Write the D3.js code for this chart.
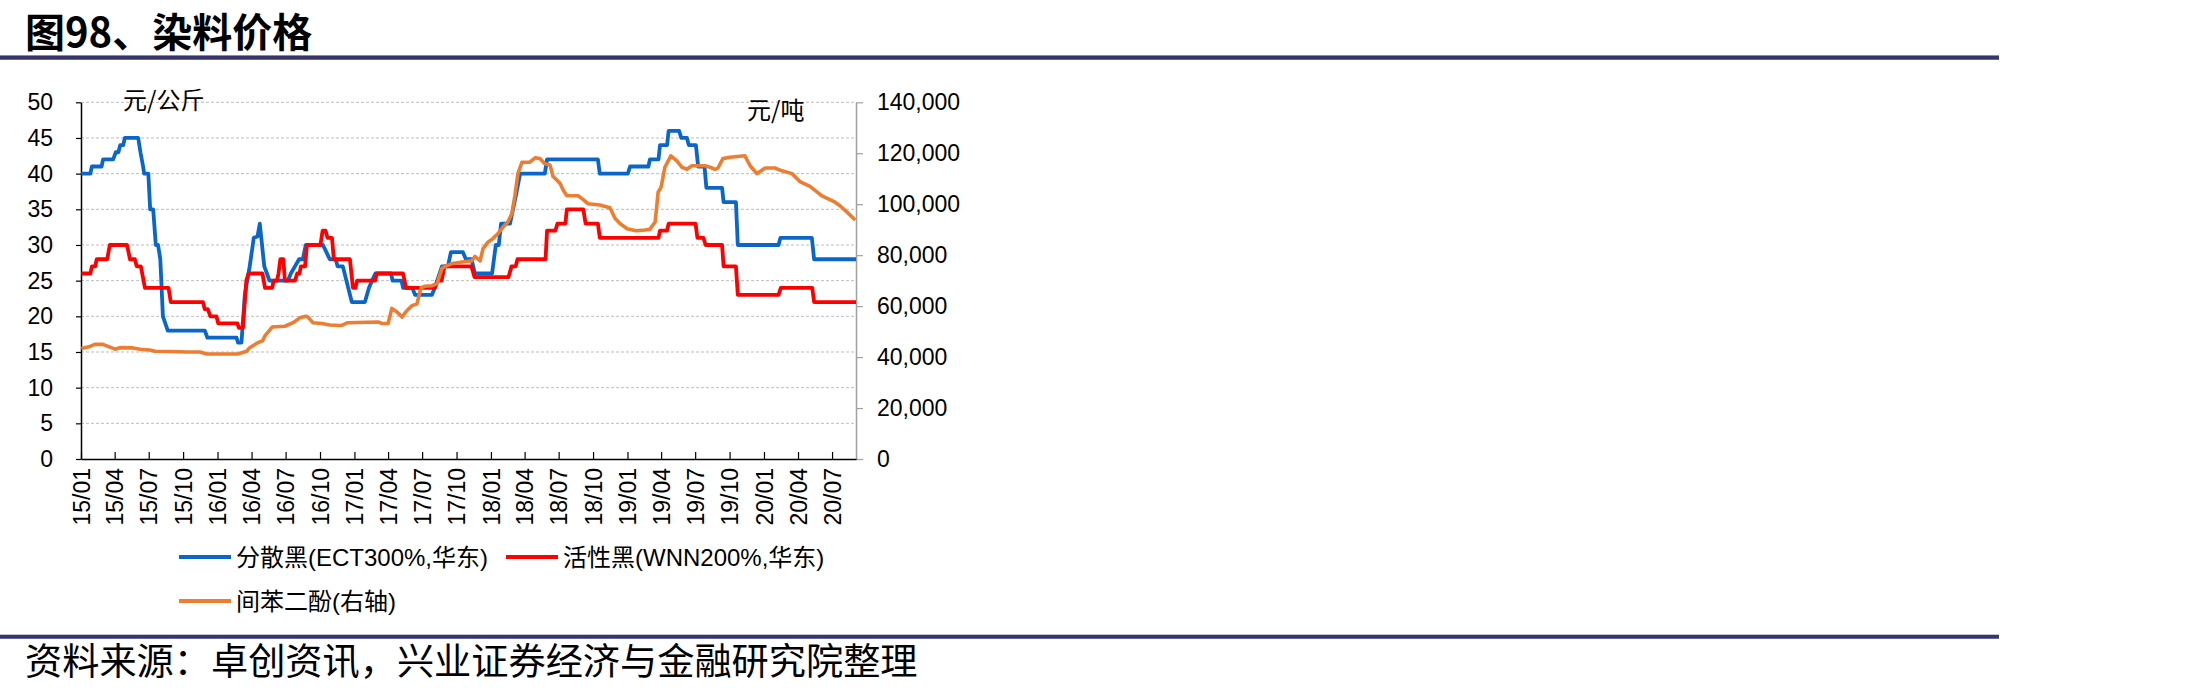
<!DOCTYPE html>
<html>
<head>
<meta charset="utf-8">
<script src="https://cdn.jsdelivr.net/npm/d3@7"></script>
<style>
  html, body { margin: 0; padding: 0; background: #ffffff; }
  svg { display: block; }
</style>
</head>
<body>
<svg id="chart" width="2191" height="696"></svg>
<script>
// ---------------- DATA ----------------
const titleText = "图98、染料价格";
const sourceText = "资料来源：卓创资讯，兴业证券经济与金融研究院整理";
const leftUnit = "元/公斤";
const rightUnit = "元/吨";
const seriesNames = ["分散黑(ECT300%,华东)", "活性黑(WNN200%,华东)", "间苯二酚(右轴)"];
const seriesColors = ["#0a66c8", "#ff0000", "#ed7d31"];

const leftTicks = [0, 5, 10, 15, 20, 25, 30, 35, 40, 45, 50];
const rightTicks = [0, 20000, 40000, 60000, 80000, 100000, 120000, 140000];
const xTickDates = ["2015-01-01","2015-04-01","2015-07-01","2015-10-01","2016-01-01","2016-04-01","2016-07-01","2016-10-01",
  "2017-01-01","2017-04-01","2017-07-01","2017-10-01","2018-01-01","2018-04-01","2018-07-01","2018-10-01",
  "2019-01-01","2019-04-01","2019-07-01","2019-10-01","2020-01-01","2020-04-01","2020-07-01"];
const xDomain = ["2015-01-01", "2020-09-03"];

// 分散黑 (left axis, 元/公斤)
const disperseBlack = [
  ["2015-01-02",40],["2015-01-26",40],["2015-01-30",41],["2015-02-25",41],["2015-03-01",42],["2015-03-28",42],
  ["2015-04-04",43],["2015-04-11",43],["2015-04-16",44],["2015-04-24",44],["2015-04-28",45],["2015-06-03",45],
  ["2015-06-09",43],["2015-06-16",41],["2015-06-19",40],["2015-06-30",40],["2015-07-05",35],["2015-07-13",35],
  ["2015-07-20",30],["2015-07-26",30],["2015-08-01",28],["2015-08-08",20],["2015-08-21",18],["2015-11-28",18],
  ["2015-12-05",17],["2016-02-21",17],["2016-02-25",16.3],["2016-03-05",16.3],["2016-03-14",23],["2016-03-27",27],
  ["2016-04-07",31],["2016-04-17",31.2],["2016-04-23",33],["2016-04-29",30],["2016-05-05",27],["2016-05-12",26],
  ["2016-05-19",25],["2016-07-07",25],["2016-07-15",26],["2016-07-26",27],["2016-08-06",28],["2016-08-16",28],
  ["2016-08-24",30],["2016-10-09",30],["2016-10-18",29],["2016-10-27",28],["2016-11-12",28],["2016-11-17",27],
  ["2016-12-01",27],["2016-12-25",22],["2017-01-29",22],["2017-02-09",24],["2017-02-17",25],["2017-02-26",26],
  ["2017-04-09",26],["2017-04-13",25],["2017-05-07",25],["2017-05-11",24],["2017-06-05",24],["2017-06-12",23],
  ["2017-07-27",23],["2017-08-04",24],["2017-08-23",27],["2017-09-08",27],["2017-09-16",29],["2017-10-18",29],
  ["2017-10-26",28],["2017-11-10",28],["2017-11-19",26],["2018-01-04",26],["2018-01-14",30],["2018-01-22",30],
  ["2018-01-28",33],["2018-02-21",33],["2018-03-01",35],["2018-03-09",37],["2018-03-20",40],["2018-05-25",40],
  ["2018-05-31",42],["2018-10-14",42],["2018-10-19",40],["2019-01-02",40],["2019-01-08",41],["2019-02-26",41],
  ["2019-03-02",42],["2019-03-25",42],["2019-03-29",44],["2019-04-17",44],["2019-04-21",46],["2019-05-19",46],
  ["2019-05-25",45],["2019-06-09",45],["2019-06-14",44],["2019-07-03",44],["2019-07-09",41],["2019-07-26",41],
  ["2019-07-31",38],["2019-09-11",38],["2019-09-15",36],["2019-10-18",36],["2019-10-23",30],["2020-02-09",30],
  ["2020-02-14",31],["2020-05-08",31],["2020-05-14",28],["2020-09-03",28]
];

// 活性黑 (left axis, 元/公斤)
const reactiveBlack = [
  ["2015-01-02",26],["2015-01-26",26],["2015-01-30",27],["2015-02-08",27],["2015-02-12",28],["2015-03-12",28],
  ["2015-03-19",30],["2015-05-04",30],["2015-05-12",28],["2015-05-25",28],["2015-05-30",27],["2015-06-10",27],
  ["2015-06-21",24],["2015-08-23",24],["2015-08-29",22],["2015-11-23",22],["2015-11-28",21],["2015-12-06",21],
  ["2015-12-13",20],["2015-12-29",20],["2016-01-03",19],["2016-02-23",19],["2016-02-27",18.4],["2016-03-09",18.4],
  ["2016-03-18",25],["2016-03-24",26],["2016-04-30",26],["2016-05-07",24],["2016-05-26",24],["2016-05-30",25],
  ["2016-06-08",25],["2016-06-12",26],["2016-06-17",28],["2016-06-25",28],["2016-06-29",25],["2016-07-26",25],
  ["2016-08-01",26],["2016-08-07",26],["2016-08-11",27],["2016-08-22",27],["2016-08-27",30],["2016-10-02",30],
  ["2016-10-08",32],["2016-10-16",32],["2016-10-21",31],["2016-11-02",31],["2016-11-07",28],["2016-12-20",28],
  ["2016-12-28",24],["2017-01-04",24],["2017-01-08",25],["2017-02-25",25],["2017-03-02",26],["2017-05-11",26],
  ["2017-05-19",24],["2017-08-04",24],["2017-08-11",25],["2017-08-22",25],["2017-08-30",27],["2017-11-10",27],
  ["2017-11-18",25.5],["2018-02-17",25.5],["2018-02-25",27],["2018-03-08",27],["2018-03-13",28],["2018-05-27",28],
  ["2018-05-31",32],["2018-06-22",32],["2018-06-28",33],["2018-07-19",33],["2018-07-23",35],["2018-09-05",35],
  ["2018-09-11",33],["2018-10-14",33],["2018-10-19",31],["2019-03-25",31],["2019-03-29",32],["2019-04-17",32],
  ["2019-04-21",33],["2019-07-02",33],["2019-07-07",31],["2019-07-23",31],["2019-07-29",30],["2019-09-11",30],
  ["2019-09-15",27],["2019-10-18",27],["2019-10-23",23],["2020-02-09",23],["2020-02-15",24],["2020-05-09",24],
  ["2020-05-14",22],["2020-09-03",22]
];

// 间苯二酚 (right axis, 元/吨)
const resorcinol = [
  ["2015-01-02",43400],["2015-01-25",44200],["2015-02-07",45000],["2015-03-01",45000],["2015-03-14",44200],
  ["2015-04-02",43100],["2015-04-15",43700],["2015-05-20",43600],["2015-06-08",43100],["2015-07-04",42800],
  ["2015-07-18",42300],["2015-08-27",42200],["2015-10-11",42000],["2015-11-15",42000],["2015-12-04",41200],
  ["2016-02-24",41200],["2016-03-06",41700],["2016-03-19",42300],["2016-03-27",43700],["2016-04-17",45600],
  ["2016-05-01",46500],["2016-05-07",48400],["2016-05-15",49800],["2016-05-26",51800],["2016-06-29",52100],
  ["2016-07-21",53500],["2016-08-08",55400],["2016-08-24",56000],["2016-08-30",55700],["2016-09-12",53500],
  ["2016-10-06",53200],["2016-10-27",52600],["2016-11-28",52400],["2016-12-14",53500],["2017-03-05",53800],
  ["2017-03-16",53200],["2017-04-01",53200],["2017-04-11",59100],["2017-04-25",57700],["2017-05-08",55700],
  ["2017-05-21",58200],["2017-06-04",60200],["2017-06-17",60800],["2017-06-28",67200],["2017-07-09",67800],
  ["2017-07-27",68000],["2017-08-10",68900],["2017-08-23",74800],["2017-09-05",75900],["2017-09-19",76700],
  ["2017-10-16",77300],["2017-11-11",77800],["2017-11-19",79500],["2017-12-03",77800],["2017-12-11",82600],
  ["2017-12-24",85100],["2018-01-06",86500],["2018-01-20",88500],["2018-02-02",91000],["2018-02-15",93000],
  ["2018-02-26",96300],["2018-03-06",103300],["2018-03-14",112000],["2018-03-25",116500],["2018-04-15",116500],
  ["2018-04-29",118200],["2018-05-12",117900],["2018-05-25",115900],["2018-06-08",115400],["2018-06-16",110900],
  ["2018-06-24",109800],["2018-07-05",108100],["2018-07-13",105600],["2018-07-23",103300],["2018-08-22",103300],
  ["2018-09-04",101900],["2018-09-17",100200],["2018-10-19",99700],["2018-11-15",98600],["2018-11-29",94400],
  ["2018-12-12",92400],["2018-12-31",90400],["2019-01-24",89600],["2019-02-17",89900],["2019-03-02",90200],
  ["2019-03-16",93000],["2019-03-24",104700],["2019-04-01",106700],["2019-04-11",114500],["2019-04-27",119000],
  ["2019-05-13",117000],["2019-05-27",114500],["2019-06-09",113700],["2019-06-22",115100],["2019-07-27",115100],
  ["2019-08-10",114500],["2019-08-23",113700],["2019-08-31",114200],["2019-09-13",117900],["2019-10-02",118400],
  ["2019-11-11",119000],["2019-11-25",115100],["2019-12-13",112000],["2020-01-04",114200],["2020-01-30",114200],
  ["2020-02-18",113100],["2020-03-16",112000],["2020-04-06",108900],["2020-05-03",107000],["2020-06-04",103300],
  ["2020-07-09",100800],["2020-07-22",99400],["2020-08-10",96900],["2020-09-01",93800]
];

// ---------------- DRAW ----------------
const parse = d3.timeParse("%Y-%m-%d");
const svg = d3.select("#chart");
const numFont = "'Liberation Sans', Arial, sans-serif";
const cjkFont = "'Noto Sans CJK SC', 'Liberation Sans', sans-serif";
const mixFont = "'Liberation Sans', 'Noto Sans CJK SC', sans-serif";

svg.append("rect").attr("width", 2191).attr("height", 696).attr("fill", "#ffffff");

// Title and rules
svg.append("text").attr("x", 25).attr("y", 47)
  .attr("font-family", cjkFont).attr("font-size", 40).attr("font-weight", 700)
  .attr("fill", "#000").text(titleText);
svg.append("rect").attr("x", 0).attr("y", 55).attr("width", 1999).attr("height", 5).attr("fill", "#8a8ab0");
svg.append("rect").attr("x", 0).attr("y", 56).attr("width", 1999).attr("height", 3.4).attr("fill", "#35356b");
svg.append("rect").attr("x", 0).attr("y", 634.5).attr("width", 1999).attr("height", 4.5).attr("fill", "#8a8ab0");
svg.append("rect").attr("x", 0).attr("y", 635).attr("width", 1999).attr("height", 3.4).attr("fill", "#35356b");
svg.append("text").attr("x", 25).attr("y", 675)
  .attr("font-family", cjkFont).attr("font-size", 37.2)
  .attr("fill", "#000").text(sourceText);

const x = d3.scaleTime().domain(xDomain.map(parse)).range([81, 856]);
const yL = d3.scaleLinear().domain([0, 50]).range([459, 102.3]);
const yR = d3.scaleLinear().domain([0, 140000]).range([459, 102.3]);

// Gridlines
svg.append("g").selectAll("line").data(leftTicks.filter(v => v > 0)).join("line")
  .attr("x1", 81).attr("x2", 856)
  .attr("y1", d => yL(d)).attr("y2", d => yL(d))
  .attr("stroke", "#bdbdbd").attr("stroke-width", 1).attr("stroke-dasharray", "3,2");

// Left axis
const gL = svg.append("g").attr("transform", "translate(81,0)")
  .call(d3.axisLeft(yL).tickValues(leftTicks).tickSize(5).tickSizeOuter(0).tickPadding(23).tickFormat(d3.format("d")));
gL.select(".domain").attr("stroke", "#000").attr("stroke-width", 1.5);
gL.selectAll(".tick line").attr("stroke", "#000").attr("stroke-width", 1.2);
gL.selectAll("text").attr("font-family", numFont).attr("font-size", 23).attr("fill", "#000");

// Right axis
const gR = svg.append("g").attr("transform", "translate(856,0)")
  .call(d3.axisRight(yR).tickValues(rightTicks).tickSize(7).tickSizeOuter(0).tickPadding(14).tickFormat(d3.format(",")));
gR.select(".domain").attr("stroke", "#a0a0a0").attr("stroke-width", 1.5);
gR.selectAll(".tick line").attr("stroke", "#a0a0a0").attr("stroke-width", 1.2);
gR.selectAll("text").attr("font-family", numFont).attr("font-size", 23).attr("fill", "#000");

// Bottom axis
const gX = svg.append("g").attr("transform", "translate(0,459)")
  .call(d3.axisBottom(x).tickValues(xTickDates.map(parse)).tickSizeInner(-7).tickSizeOuter(0)
    .tickFormat(d3.timeFormat("%y/%m")));
gX.select(".domain").attr("stroke", "#000").attr("stroke-width", 1.5);
gX.selectAll(".tick line").attr("stroke", "#000").attr("stroke-width", 1.2);
gX.selectAll("text")
  .attr("font-family", numFont).attr("font-size", 23).attr("fill", "#000")
  .attr("transform", "rotate(-90)")
  .attr("x", -9).attr("y", 0).attr("dy", "0.35em")
  .attr("text-anchor", "end");

// Unit labels
svg.append("text").attr("x", 123).attr("y", 109).attr("font-family", cjkFont)
  .attr("font-size", 24).attr("fill", "#000").text(leftUnit);
svg.append("text").attr("x", 747).attr("y", 119).attr("font-family", cjkFont)
  .attr("font-size", 24).attr("fill", "#000").text(rightUnit);

// Series
const lineL = d3.line().x(d => x(parse(d[0]))).y(d => yL(d[1]));
const lineR = d3.line().x(d => x(parse(d[0]))).y(d => yR(d[1]));
svg.append("path").datum(disperseBlack).attr("d", lineL)
  .attr("fill", "none").attr("stroke", seriesColors[0]).attr("stroke-width", 3.8).attr("stroke-linejoin", "round");
svg.append("path").datum(reactiveBlack).attr("d", lineL)
  .attr("fill", "none").attr("stroke", seriesColors[1]).attr("stroke-width", 3.8).attr("stroke-linejoin", "round");
svg.append("path").datum(resorcinol).attr("d", lineR)
  .attr("fill", "none").attr("stroke", seriesColors[2]).attr("stroke-width", 3.6).attr("stroke-linejoin", "round");

// Legend
const legendItems = [
  {x: 179, y: 557, name: seriesNames[0], color: seriesColors[0]},
  {x: 506, y: 557, name: seriesNames[1], color: seriesColors[1]},
  {x: 179, y: 601, name: seriesNames[2], color: seriesColors[2]}
];
const lg = svg.append("g").selectAll("g").data(legendItems).join("g")
  .attr("transform", d => `translate(${d.x},${d.y})`);
lg.append("line").attr("x1", 0).attr("x2", 52).attr("y1", 0).attr("y2", 0)
  .attr("stroke", d => d.color).attr("stroke-width", 4);
lg.append("text").attr("x", 57).attr("y", 0).attr("dy", "0.36em")
  .attr("font-family", mixFont).attr("font-size", 24).attr("fill", "#000")
  .text(d => d.name);
</script>
</body>
</html>
